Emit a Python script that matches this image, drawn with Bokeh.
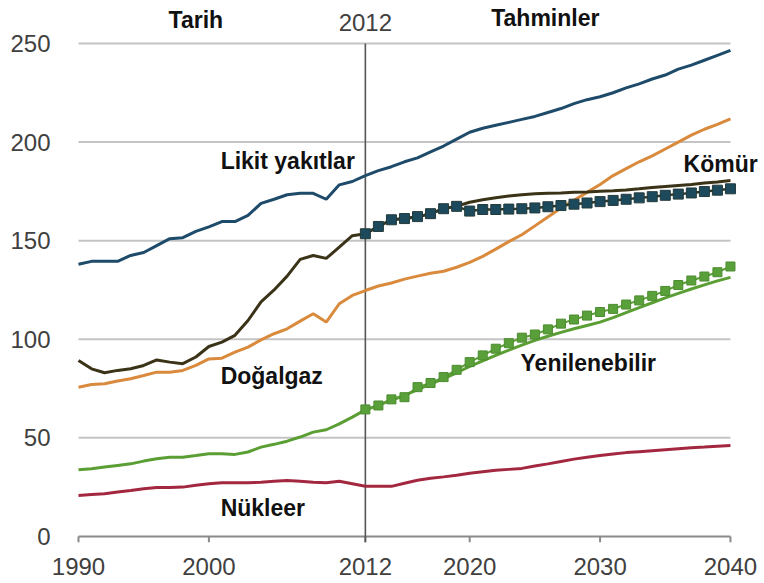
from bokeh.plotting import figure
from bokeh.models import Range1d, FixedTicker, Label
from bokeh.embed import file_html
from bokeh.resources import INLINE

# ---- data ----
years_hist = list(range(1990, 2013))
years_proj = list(range(2012, 2041))

liquids_hist = [138, 139.5, 139.5, 139.5, 142.5, 144, 147.5, 151, 151.5, 154.7, 157, 159.7,
                159.7, 162.8, 168.9, 171, 173.3, 174, 174, 171, 178.3, 180, 183]
liquids_proj = [183, 185.5, 187.5, 190, 192, 195, 198, 201.5, 205, 207, 208.5, 210, 211.5, 213,
                215, 217, 219.5, 221.5, 223, 225, 227.5, 229.5, 232, 234, 237, 239, 241.5, 244, 246.5]

coal_hist = [89.2, 85, 83, 84.2, 85, 86.7, 89.5, 88.4, 87.6, 91, 96.3, 98.5, 102, 109.5, 119,
             125, 132, 140.5, 142.5, 141, 146.7, 152.5, 153.5]
coal_proj = [153.5, 157.2, 160.6, 161.2, 162, 163.7, 166.2, 167.5, 169.5, 170.7, 171.8, 172.6,
             173.3, 173.8, 174, 174.2, 174.5, 174.7, 175, 175.3, 175.7, 176.3, 177, 177.5, 178,
             178.5, 179.2, 179.8, 180.5]
coal_alt = [153.5, 157.2, 160.6, 161.2, 162.2, 163.7, 166.2, 167.4, 165, 165.8, 165.8, 166,
            166.2, 166.6, 167.2, 167.8, 168.5, 169.1, 169.8, 170.4, 171, 171.7, 172.3, 173,
            173.6, 174.2, 174.9, 175.6, 176.3]

gas_hist = [75.7, 77, 77.4, 78.8, 80, 81.6, 83.3, 83.3, 84.2, 86.7, 90, 90.4, 93.5, 96, 99.7,
            102.8, 105.3, 109.2, 112.9, 108.7, 118, 122.2, 124.7]
gas_proj = [124.7, 127, 128.5, 130.5, 132, 133.5, 134.5, 136.5, 139, 142, 145.7, 149.5, 153,
            157.5, 162, 166.5, 170.5, 174.5, 178.5, 183, 186.5, 190, 193, 196.5, 200, 203.5,
            206.5, 209, 211.8]

renew_hist = [33.8, 34.3, 35.2, 36, 36.8, 38.2, 39.4, 40.2, 40.2, 41, 41.9, 41.9, 41.6, 42.8,
              45.3, 46.7, 48.3, 50.4, 52.9, 54.1, 57.1, 60.5, 64.2]
renew_proj = [64.2, 66.5, 69.2, 71.5, 74.5, 77.3, 80, 83, 86.2, 89, 91.8, 94.5, 97, 99.4, 101.5,
              103.5, 105.3, 107, 108.7, 111, 113.5, 116, 118.5, 121, 123.3, 125.5, 127.6,
              129.6, 131.4]
renew_alt = [64.4, 66.4, 69.5, 70.6, 75.7, 77.8, 80.8, 84.5, 88.4, 91.8, 95.2, 98, 100.8, 102.4,
             105, 107.9, 110, 112, 113.8, 115.4, 117.6, 119.7, 122, 124.5, 127.5, 129.8, 131.8,
             134, 136.9]

nuclear_hist = [20.8, 21.3, 21.6, 22.5, 23.3, 24.2, 24.8, 24.8, 25, 25.9, 26.7, 27.2, 27.2, 27.2,
                27.5, 28, 28.4, 28, 27.5, 27.2, 28, 26.7, 25.4]
nuclear_proj = [25.4, 25.4, 25.4, 27, 28.5, 29.5, 30.2, 31, 32, 32.8, 33.5, 34, 34.5, 35.7, 36.8,
                38, 39.2, 40.2, 41, 41.8, 42.5, 43, 43.5, 44, 44.5, 45, 45.3, 45.7, 46.1]

y_ticks = [0, 50, 100, 150, 200, 250]
x_ticks = [1990, 2000, 2012, 2020, 2030, 2040]
x_first, x_last, split_year = 1990, 2040, 2012

# ---- figure ----
FONT = "Liberation Sans"
p = figure(width=764, height=583, output_backend="svg", toolbar_location=None,
           x_range=Range1d(1989.54, 2042.61), y_range=Range1d(-4.1, 271.8),
           min_border_left=72, min_border_right=0, min_border_top=0, min_border_bottom=39)
p.outline_line_color = None
p.xgrid.visible = False
p.ygrid.visible = False
p.background_fill_color = "white"

for ax in (p.xaxis[0], p.yaxis[0]):
    ax.axis_line_color = None
    ax.major_tick_line_color = None
    ax.minor_tick_line_color = None
    ax.major_label_text_font = FONT
    ax.major_label_text_font_size = "24px"
    ax.major_label_text_color = "#404040"
p.yaxis[0].ticker = FixedTicker(ticks=y_ticks)
p.xaxis[0].ticker = FixedTicker(ticks=x_ticks)
p.yaxis[0].major_label_standoff = 16
p.xaxis[0].major_label_standoff = 7

# gridlines (span 1990-2040)
gy = [t for t in y_ticks if t > 0]
p.segment(x0=[x_first] * len(gy), x1=[x_last] * len(gy), y0=gy, y1=gy,
          line_color="#c4c4c4", line_width=2)
# bottom axis line and ticks
p.segment(x0=[x_first], x1=[x_last], y0=[0], y1=[0], line_color="#8a8a8a", line_width=2)
p.segment(x0=x_ticks, x1=x_ticks, y0=[0] * len(x_ticks), y1=[-3] * len(x_ticks),
          line_color="#8a8a8a", line_width=2)
# 2012 divider
p.segment(x0=[split_year], x1=[split_year], y0=[-3], y1=[250], line_color="#555555", line_width=1.6)

LW = 3
# nuclear
p.line(years_hist, nuclear_hist, line_color="#a3283f", line_width=LW)
p.line(years_proj, nuclear_proj, line_color="#a3283f", line_width=LW)
# renewables
p.line(years_hist, renew_hist, line_color="#5a9e34", line_width=LW)
p.line(years_proj, renew_proj, line_color="#5a9e34", line_width=LW)
p.line(years_proj, renew_alt, line_color="#5a9e34", line_width=2)
p.scatter(years_proj, renew_alt, marker="square", size=9, fill_color="#5aa03a",
          line_color="#4c8c30", line_width=1)
# natural gas
p.line(years_hist, gas_hist, line_color="#d98a3c", line_width=LW)
p.line(years_proj, gas_proj, line_color="#d98a3c", line_width=LW)
# coal
p.line(years_hist, coal_hist, line_color="#3b3318", line_width=LW)
p.line(years_proj, coal_proj, line_color="#3b3318", line_width=LW)
p.line(years_proj, coal_alt, line_color="#2c3a2c", line_width=2.5)
p.scatter(years_proj, coal_alt, marker="square", size=10, fill_color="#1c4a5c",
          line_color="#243a3a", line_width=1)
# liquids
p.line(years_hist, liquids_hist, line_color="#1e4b6a", line_width=LW)
p.line(years_proj, liquids_proj, line_color="#1e4b6a", line_width=LW)

def lab(x, y, t, bold=True, align="left", size="23px"):
    p.add_layout(Label(x=x, y=y, text=t, text_font=FONT, text_font_size=size,
                       text_font_style="bold" if bold else "normal",
                       text_color="#111111" if bold else "#404040",
                       text_align=align, text_baseline="middle"))

lab(1999.0, 261.7, "Tarih", align="center")
lab(2012.0, 260.6, "2012", bold=False, align="center", size="24px")
lab(2025.8, 262.7, "Tahminler", align="center")
lab(2000.9, 190.2, "Likit yakıtlar")
lab(2036.4, 189.0, "Kömür")
lab(2000.9, 81.6, "Doğalgaz")
lab(2023.9, 88.2, "Yenilenebilir")
lab(2000.9, 14.2, "Nükleer")

open("out.html", "w").write(file_html(p, INLINE))
